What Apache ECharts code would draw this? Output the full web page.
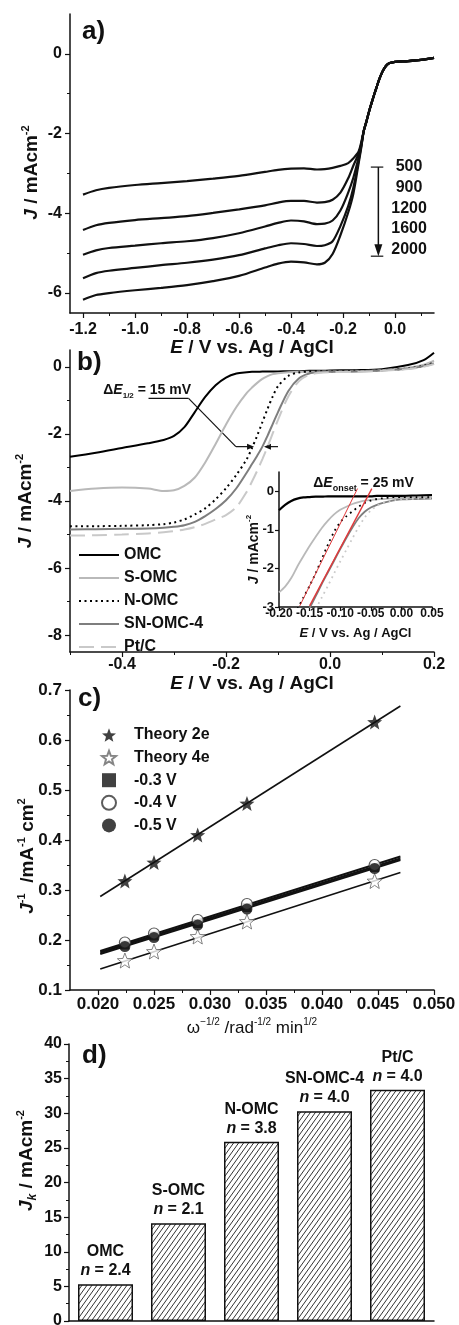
<!DOCTYPE html>
<html>
<head>
<meta charset="utf-8">
<title>ORR panels</title>
<script src="https://cdn.jsdelivr.net/npm/echarts@6.0.0/dist/echarts.min.js"></script>
<style>
  html, body { margin: 0; padding: 0; background: #fff; }
  #chart { width: 459px; height: 1325px; }
</style>
</head>
<body>
<div id="chart"></div>
<script>
// ---- a) LSV at several rotation rates ----
var aPotential = [-1.2, -1.15, -1.1, -1.0, -0.9, -0.8, -0.7, -0.6, -0.5, -0.45, -0.4, -0.35, -0.3, -0.27, -0.24,
  -0.21, -0.18, -0.16, -0.14, -0.13, -0.12, -0.11, -0.1, -0.09, -0.08, -0.07, -0.06, -0.05, -0.04, -0.03, -0.02,
  0, 0.05, 0.1, 0.15];
var aJ500 = [-3.53, -3.42, -3.36, -3.29, -3.24, -3.19, -3.13, -3.06, -2.96, -2.91, -2.88, -2.87, -2.9, -2.89, -2.86, -2.81, -2.74, -2.62, -2.45, -2.22];
var aJ900 = [-4.42, -4.3, -4.24, -4.17, -4.12, -4.07, -3.99, -3.9, -3.8, -3.73, -3.69, -3.69, -3.73, -3.72, -3.66, -3.48, -3.12, -2.8, -2.5, -2.27];
var aJ1200 = [-5.04, -4.93, -4.87, -4.81, -4.75, -4.7, -4.62, -4.5, -4.33, -4.24, -4.18, -4.2, -4.27, -4.26, -4.18, -3.93, -3.48, -3.1, -2.6, -2.3];
var aJ1600 = [-5.63, -5.5, -5.44, -5.37, -5.3, -5.24, -5.16, -5.05, -4.88, -4.8, -4.75, -4.77, -4.82, -4.8, -4.7, -4.32, -3.82, -3.35, -2.68, -2.33];
var aJ2000 = [-6.17, -6.05, -6.0, -5.93, -5.87, -5.8, -5.7, -5.57, -5.36, -5.26, -5.21, -5.23, -5.28, -5.24, -5.02, -4.55, -3.98, -3.5, -2.75, -2.36];
// common part of all five curves, from -0.12 V on
var aJMerged = [-1.93, -1.7, -1.45, -1.23, -1.02, -0.82, -0.63, -0.47, -0.35, -0.27, -0.23, -0.2, -0.18, -0.15, -0.1];
var aRpm = ['500', '900', '1200', '1600', '2000'];
var aTicksX = [-1.2, -1.0, -0.8, -0.6, -0.4, -0.2, 0.0];
var aMinorX = [-1.1, -0.9, -0.7, -0.5, -0.3, -0.1, 0.1];
var aTicksY = [-6, -4, -2, 0];
var aMinorY = [-5, -3, -1];

// ---- b) LSV of the catalysts ----
var bPotential = [-0.5, -0.45, -0.4, -0.35, -0.32, -0.3, -0.28, -0.26, -0.24, -0.22, -0.2, -0.18, -0.16, -0.15,
  -0.14, -0.13, -0.12, -0.11, -0.1, -0.08, -0.06, -0.04, -0.02, 0, 0.05, 0.1, 0.15, 0.18, 0.2];
var bOMC = [-2.68, -2.56, -2.42, -2.28, -2.18, -2.06, -1.8, -1.35, -0.9, -0.55, -0.32, -0.2, -0.16, -0.15, -0.15,
  -0.14, -0.14, -0.14, -0.14, -0.13, -0.13, -0.12, -0.12, -0.11, -0.1, -0.07, 0.05, 0.2, 0.42];
var bSOMC = [-3.7, -3.63, -3.6, -3.63, -3.7, -3.68, -3.55, -3.3, -2.85, -2.3, -1.72, -1.2, -0.78, -0.62, -0.48,
  -0.36, -0.28, -0.22, -0.19, -0.16, -0.15, -0.15, -0.14, -0.14, -0.13, -0.1, -0.03, 0.06, 0.18];
var bNOMC = [-4.75, -4.75, -4.74, -4.72, -4.69, -4.64, -4.55, -4.4, -4.22, -3.95, -3.62, -3.22, -2.75, -2.42, -2.05,
  -1.65, -1.25, -0.88, -0.58, -0.27, -0.17, -0.14, -0.13, -0.13, -0.12, -0.1, -0.05, 0.03, 0.12];
var bSNOMC = [-4.85, -4.84, -4.83, -4.82, -4.8, -4.77, -4.72, -4.62, -4.45, -4.24, -3.98, -3.62, -3.15, -2.9, -2.65,
  -2.38, -2.05, -1.7, -1.35, -0.72, -0.35, -0.2, -0.16, -0.15, -0.14, -0.11, -0.06, 0.02, 0.1];
var bPtC = [-5.03, -5.02, -5.0, -4.97, -4.93, -4.9, -4.85, -4.78, -4.68, -4.55, -4.42, -4.18, -3.72, -3.42, -3.1,
  -2.75, -2.38, -1.98, -1.58, -0.88, -0.43, -0.24, -0.18, -0.16, -0.15, -0.12, -0.07, 0.0, 0.08];
var bNames = ['OMC', 'S-OMC', 'N-OMC', 'SN-OMC-4', 'Pt/C'];
var bTicksX = [-0.4, -0.2, 0.0, 0.2];
var bMinorX = [-0.5, -0.3, -0.1, 0.1];
var bTicksY = [-8, -6, -4, -2, 0];
var bMinorY = [-7, -5, -3, -1];

// ---- b) inset, onset region ----
var iPotential = [-0.2, -0.19, -0.18, -0.17, -0.16, -0.15, -0.14, -0.13, -0.12, -0.11, -0.1, -0.09, -0.08, -0.07,
  -0.06, -0.05, -0.04, -0.03, -0.02, -0.01, 0, 0.025, 0.05];
var iOMC = [-0.49, -0.35, -0.25, -0.19, -0.16, -0.15, -0.14, -0.14, -0.13, -0.13, -0.13, -0.13, -0.13, -0.13, -0.13,
  -0.13, -0.12, -0.12, -0.12, -0.12, -0.12, -0.11, -0.1];
var iSOMC = [-2.62, -2.47, -2.25, -1.95, -1.68, -1.42, -1.18, -0.95, -0.76, -0.6, -0.48, -0.4, -0.33, -0.28, -0.24,
  -0.22, -0.21, -0.2, -0.19, -0.18, -0.17, -0.16, -0.16];
var iNOMC = [null, null, null, -3.05, -2.75, -2.45, -2.12, -1.75, -1.38, -1.05, -0.8, -0.65, -0.52, -0.4, -0.3,
  -0.24, -0.2, -0.18, -0.16, -0.15, -0.15, -0.15, -0.15];
var iSNOMC = [null, null, null, null, null, -3.03, -2.72, -2.4, -2.1, -1.8, -1.5, -1.21, -0.94, -0.7, -0.53,
  -0.42, -0.35, -0.3, -0.26, -0.23, -0.21, -0.2, -0.19];
var iPtC = [null, null, null, null, null, null, -3.05, -2.75, -2.45, -2.13, -1.82, -1.52, -1.22, -0.93, -0.68,
  -0.5, -0.38, -0.3, -0.26, -0.23, -0.21, -0.19, -0.18];
var iTangentA = [[-0.166, -2.97], [-0.0717, 0.07]];
var iTangentB = [[-0.15, -2.97], [-0.0483, 0.07]];
var iTicksX = [-0.2, -0.15, -0.1, -0.05, 0, 0.05];
var iTicksY = [-3, -2, -1, 0];

// ---- c) Koutecky-Levich ----
var cOmega = [0.0224, 0.025, 0.0289, 0.0333, 0.0447];
var c2e = [0.318, 0.355, 0.41, 0.473, 0.636];
var c4e = [0.159, 0.177, 0.207, 0.237, 0.318];
var cM03 = [0.19, 0.208, 0.233, 0.265, 0.345];
var cM04 = [0.195, 0.213, 0.24, 0.272, 0.35];
var cM05 = [0.187, 0.205, 0.23, 0.262, 0.343];
var cFitX = [0.0202, 0.047];
var cFit2e = [0.287, 0.668];
var cFit4e = [0.142, 0.335];
var cFit03 = [0.175, 0.363];
var cFit04 = [0.178, 0.367];
var cFit05 = [0.172, 0.36];
var cTicksX = [0.02, 0.025, 0.03, 0.035, 0.04, 0.045, 0.05];
var cMinorX = [0.0225, 0.0275, 0.0325, 0.0375, 0.0425, 0.0475];
var cTicksY = [0.1, 0.2, 0.3, 0.4, 0.5, 0.6, 0.7];
var cMinorY = [0.15, 0.25, 0.35, 0.45, 0.55, 0.65];

// ---- d) kinetic current ----
var dCatalysts = ['OMC', 'S-OMC', 'N-OMC', 'SN-OMC-4', 'Pt/C'];
var dJk = [5.3, 14.1, 25.9, 30.3, 33.4];
var dElectrons = ['2.4', '2.1', '3.8', '4.0', '4.0'];
var dTicksY = [0, 5, 10, 15, 20, 25, 30, 35, 40];
var dMinorY = [2.5, 7.5, 12.5, 17.5, 22.5, 27.5, 32.5, 37.5];

var FONT = "'Liberation Sans', Arial, Helvetica, sans-serif";
var INK = '#111';
var STAR = 'path://M12,1 L14.9,8.6 L23,9 L16.7,14.1 L18.8,22 L12,17.6 L5.2,22 L7.3,14.1 L1,9 L9.1,8.6 Z';

function zip(xs, ys) {
  return xs.map(function (x, i) { return [x, ys[i]]; });
}

function hatch() {
  var c = document.createElement('canvas');
  c.width = 5; c.height = 7;
  var g = c.getContext('2d');
  g.strokeStyle = '#333';
  g.lineWidth = 1;
  [-5, 0, 5].forEach(function (o) {
    g.beginPath(); g.moveTo(o, 7); g.lineTo(o + 5, 0); g.stroke();
  });
  return c;
}

function valueAxis(grid, min, max, ticks, fmt, size, margin) {
  return {
    type: 'value', gridIndex: grid, min: min, max: max,
    axisLine: { show: true, onZero: false, lineStyle: { color: INK, width: 1.5 } },
    axisTick: { show: true, length: 5, lineStyle: { color: INK, width: 1.2 }, customValues: ticks },
    axisLabel: {
      show: true, customValues: ticks, formatter: fmt, margin: margin,
      color: INK, fontFamily: FONT, fontWeight: 'bold', fontSize: size
    },
    splitLine: { show: false }
  };
}

function minorAxis(grid, min, max, ticks, pos) {
  return {
    type: 'value', gridIndex: grid, min: min, max: max, position: pos,
    axisLine: { show: false, onZero: false },
    axisLabel: { show: false },
    splitLine: { show: false },
    axisTick: { show: true, length: 3, lineStyle: { color: INK, width: 1 }, customValues: ticks }
  };
}

function named(axis, name, gap, size, lh, pad, weight, rich) {
  axis.name = name;
  axis.nameLocation = 'middle';
  axis.nameGap = gap;
  axis.nameMoveOverlap = false;
  axis.nameTextStyle = {
    fontFamily: FONT, fontSize: size, fontWeight: weight || 'bold', color: INK,
    lineHeight: lh, padding: pad || 0, rich: rich
  };
  return axis;
}

function richSet(size, weight) {
  var w = weight || 'bold';
  return {
    i: { fontStyle: 'italic', fontWeight: w, fontSize: size, fontFamily: FONT, color: INK, lineHeight: size + 5 },
    n: { fontWeight: w, fontSize: size, fontFamily: FONT, color: INK, lineHeight: size + 5 },
    s: { fontWeight: w, fontSize: Math.round(size * 0.58), fontFamily: FONT, color: INK, verticalAlign: 'top', lineHeight: size + 5 },
    k: { fontStyle: 'italic', fontWeight: w, fontSize: Math.round(size * 0.63), fontFamily: FONT, color: INK, verticalAlign: 'bottom', lineHeight: size + 5 }
  };
}

var f1 = function (v) { return v === 0 ? '0.0' : v.toFixed(1); };
var f0 = function (v) { return String(v); };

var xAxes = [
  named(valueAxis(0, -1.25, 0.15, aTicksX, f1, 16, 9), '{i|E}{n| / V vs. Ag / AgCl}', 23, 19, 22, 0, 'bold', richSet(19)),
  named(valueAxis(1, -0.5, 0.2, bTicksX, f1, 16, 5), '{i|E}{n| / V vs. Ag / AgCl}', 20, 19, 22, 0, 'bold', richSet(19)),
  named(valueAxis(2, -0.2, 0.05, iTicksX, function (v) { return v.toFixed(2); }, 12, 1),
    '{i|E}{n| / V vs. Ag / AgCl}', 17, 13, 16, 0, 'bold', richSet(13)),
  named(valueAxis(3, 0.0175, 0.05, cTicksX, function (v) { return v.toFixed(3); }, 17, 6),
    '{n|ω}{s|−1/2}{n| /rad}{s|-1/2}{n| min}{s|1/2}', 27, 17, 22, 0, 'normal', richSet(17, 'normal')),
  {
    type: 'category', gridIndex: 4, data: dCatalysts, boundaryGap: true,
    axisLine: { show: true, lineStyle: { color: INK, width: 1.5 } },
    axisTick: { show: false }, axisLabel: { show: false }, splitLine: { show: false }
  },
  minorAxis(0, -1.25, 0.15, aMinorX, 'bottom'),
  minorAxis(1, -0.5, 0.2, bMinorX, 'bottom'),
  minorAxis(3, 0.0175, 0.05, cMinorX, 'bottom')
];
xAxes[2].axisTick.length = 4;

var yAxes = [
  named(valueAxis(0, -6.5, 1, aTicksY, f0, 16, 8), '{i|J}{n| / mAcm}{s|-2}', 26, 19, 24, [0, 18, 0, 0], 'bold', richSet(19)),
  named(valueAxis(1, -8.5, 0.5, bTicksY, f0, 16, 8), '{i|J}{n| / mAcm}{s|-2}', 32, 19, 24, 0, 'bold', richSet(19)),
  named(valueAxis(2, -3, 0.5, iTicksY, f0, 13, 5), '{i|J}{n| / mAcm}{s|-2}', 15, 14, 18, [0, 20, 0, 0], 'bold', richSet(14)),
  named(valueAxis(3, 0.1, 0.7, cTicksY, f1, 17, 8), '{i|J}{s|-1}{n|  /mA}{s|-1}{n| cm}{s|2}', 30, 19, 24, [0, 32, 0, 0], 'bold', richSet(19)),
  named(valueAxis(4, 0, 40, dTicksY, f0, 16, 7), '{i|J}{k|k}{n| / mAcm}{s|-2}', 30, 19, 24, [0, 0, 0, 44], 'bold', richSet(19)),
  minorAxis(0, -6.5, 1, aMinorY, 'left'),
  minorAxis(1, -8.5, 0.5, bMinorY, 'left'),
  minorAxis(3, 0.1, 0.7, cMinorY, 'left'),
  minorAxis(4, 0, 40, dMinorY, 'left')
];
yAxes[2].axisTick.length = 4;

var series = [];

// a)
[aJ500, aJ900, aJ1200, aJ1600, aJ2000].forEach(function (arr) {
  series.push({
    type: 'line', xAxisIndex: 0, yAxisIndex: 0, data: zip(aPotential, arr.concat(aJMerged)),
    symbol: 'none', smooth: 0.3, silent: true,
    lineStyle: { color: INK, width: 2.2 }
  });
});

// b) main + inset
var bData = [bOMC, bSOMC, bNOMC, bSNOMC, bPtC];
var iData = [iOMC, iSOMC, iNOMC, iSNOMC, iPtC];
var bLook = [
  { color: '#000', type: 'solid' },
  { color: '#b9b9b9', type: 'solid' },
  { color: '#000', type: [2, 3.5] },
  { color: '#7e7e7e', type: 'solid' },
  { color: '#c9c9c9', type: [15, 7] }
];
bNames.forEach(function (nm, k) {
  series.push({
    name: nm, type: 'line', xAxisIndex: 1, yAxisIndex: 1, data: zip(bPotential, bData[k]),
    symbol: 'none', smooth: 0.3, silent: true,
    itemStyle: { color: bLook[k].color },
    lineStyle: { color: bLook[k].color, width: 2, type: bLook[k].type }
  });
});
bNames.forEach(function (nm, k) {
  var t = bLook[k].type === 'solid' ? 'solid' : [1.8, 4];
  series.push({
    type: 'line', xAxisIndex: 2, yAxisIndex: 2, data: zip(iPotential, iData[k]),
    symbol: 'none', smooth: 0.3, silent: true, connectNulls: false,
    lineStyle: { color: bLook[k].color, width: k === 0 ? 2.2 : 1.8, type: t }
  });
});
[iTangentA, iTangentB].forEach(function (seg, k) {
  series.push({
    type: 'line', xAxisIndex: 2, yAxisIndex: 2, data: seg, symbol: 'none', silent: true,
    lineStyle: { color: '#e0383a', width: k === 0 ? 1 : 1.4 }, z: 3
  });
});

// c) fits first, then markers
[[cFit2e, 1.6], [cFit4e, 1.6], [cFit03, 2], [cFit04, 2], [cFit05, 2]].forEach(function (f) {
  series.push({
    type: 'line', xAxisIndex: 3, yAxisIndex: 3, data: zip(cFitX, f[0]), symbol: 'none', silent: true,
    lineStyle: { color: INK, width: f[1] }
  });
});
var cMarks = [
  { name: 'Theory 2e', data: c2e, symbol: STAR, size: 15, style: { color: INK } },
  { name: 'Theory 4e', data: c4e, symbol: STAR, size: 15, style: { color: '#fff', borderColor: '#666', borderWidth: 1 } },
  { name: '-0.3 V', data: cM03, symbol: 'rect', size: 9, style: { color: INK } },
  { name: '-0.4 V', data: cM04, symbol: 'circle', size: 11, style: { color: '#fff', borderColor: '#333', borderWidth: 1.2 } },
  { name: '-0.5 V', data: cM05, symbol: 'circle', size: 11, style: { color: INK } }
];
cMarks.forEach(function (m) {
  series.push({
    name: m.name, type: 'scatter', xAxisIndex: 3, yAxisIndex: 3, data: zip(cOmega, m.data),
    symbol: m.symbol, symbolSize: m.size, itemStyle: m.style, silent: true, z: 4
  });
});

// d)
series.push({
  type: 'bar', xAxisIndex: 4, yAxisIndex: 4, data: dJk, barWidth: 55, silent: true,
  itemStyle: { color: { image: hatch(), repeat: 'repeat' }, borderColor: INK, borderWidth: 1.5 },
  label: {
    show: true, position: 'top', distance: 4,
    formatter: function (p) {
      return '{b|' + dCatalysts[p.dataIndex] + '}\n{i|n}{b| = ' + dElectrons[p.dataIndex] + '}';
    },
    rich: {
      b: { fontFamily: FONT, fontWeight: 'bold', fontSize: 16, color: INK, lineHeight: 19 },
      i: { fontFamily: FONT, fontWeight: 'bold', fontStyle: 'italic', fontSize: 16, color: INK, lineHeight: 19 }
    }
  }
});

var legendText = { fontFamily: FONT, fontWeight: 'bold', fontSize: 16, color: INK };

var chart = echarts.init(document.getElementById('chart'), null, { renderer: 'canvas' });
chart.setOption({
  animation: false,
  backgroundColor: '#fff',
  textStyle: { fontFamily: FONT },
  grid: [
    { left: 70, top: 14, width: 364, height: 299, containLabel: false, outerBoundsMode: 'none' },
    { left: 70, top: 350, width: 364, height: 302, containLabel: false, outerBoundsMode: 'none' },
    { left: 279, top: 472, width: 153, height: 135, containLabel: false, outerBoundsMode: 'none' },
    { left: 70, top: 690, width: 364, height: 300, containLabel: false, outerBoundsMode: 'none' },
    { left: 69, top: 1044, width: 365, height: 277, containLabel: false, outerBoundsMode: 'none' }
  ],
  xAxis: xAxes,
  yAxis: yAxes,
  legend: [
    {
      data: bNames, orient: 'vertical', left: 78, top: 547, itemWidth: 40, itemHeight: 14, itemGap: 7,
      selectedMode: false, textStyle: legendText, padding: 0,
      itemStyle: { opacity: 0 }
    },
    {
      data: cMarks.map(function (m) { return m.name; }), orient: 'vertical', left: 101, top: 727,
      itemWidth: 14, itemHeight: 14, itemGap: 6.6, selectedMode: false, padding: 0,
      textStyle: { fontFamily: FONT, fontWeight: 'bold', fontSize: 16, color: INK, padding: [0, 0, 0, 13] }
    }
  ],
  series: series
});

// annotations placed from data coordinates
function annotate() {
  var els = [];
  function pt(i, x, y) { return chart.convertToPixel({ xAxisIndex: i, yAxisIndex: i }, [x, y]); }
  function seg(p, q, w) {
    els.push({ type: 'line', silent: true, shape: { x1: p[0], y1: p[1], x2: q[0], y2: q[1] },
      style: { stroke: INK, lineWidth: w || 1.3 } });
  }
  function head(tip, from, len, half) {
    var dx = tip[0] - from[0], dy = tip[1] - from[1], L = Math.sqrt(dx * dx + dy * dy);
    var ux = dx / L, uy = dy / L, bx = tip[0] - ux * len, by = tip[1] - uy * len;
    els.push({ type: 'polygon', silent: true,
      shape: { points: [tip, [bx - uy * half, by + ux * half], [bx + uy * half, by - ux * half]] },
      style: { fill: INK } });
  }
  function txt(p, s, size, align, rich) {
    els.push({ type: 'text', silent: true, x: p[0], y: p[1],
      style: { text: s, rich: rich, fill: INK, fontFamily: FONT, fontWeight: 'bold', fontSize: size,
        align: align || 'center', verticalAlign: 'middle' } });
  }

  // panel letters
  txt([82, 32], 'a)', 26, 'left');
  txt([77, 363], 'b)', 26, 'left');
  txt([78, 699], 'c)', 26, 'left');
  txt([82, 1056], 'd)', 26, 'left');

  // a) rotation-rate arrow
  var top = pt(0, -0.064, -2.84), bot = pt(0, -0.064, -5.075);
  seg(top, [bot[0], bot[1] - 10], 1.5);
  head(bot, top, 12, 4);
  seg(pt(0, -0.093, -2.84), pt(0, -0.045, -2.84), 1.2);
  seg(pt(0, -0.093, -5.075), pt(0, -0.045, -5.075), 1.2);
  var rpmY = [-2.84, -3.36, -3.875, -4.38, -4.9];
  aRpm.forEach(function (r, k) { txt(pt(0, 0.054, rpmY[k]), r, 16); });

  // b) half-wave shift
  var rb = richSet(14);
  rb.d = { fontFamily: FONT, fontWeight: 'bold', fontSize: 14, color: INK, lineHeight: 19 };
  rb.s.verticalAlign = 'bottom';
  txt(pt(1, -0.436, -0.7), '{d|Δ}{i|E}{s|1/2}{d| = 15 mV}', 14, 'left', rb);
  var p1 = pt(1, -0.349, -0.94), p2 = pt(1, -0.272, -0.94), p3 = pt(1, -0.181, -2.38), p4 = pt(1, -0.146, -2.38);
  seg(p1, p2, 1.2); seg(p2, p3, 1.2); seg(p3, [p4[0] - 5, p4[1]], 1.2); head(p4, p3, 7, 3);
  var q1 = pt(1, -0.1, -2.38), q2 = pt(1, -0.127, -2.38);
  seg(q1, [q2[0] + 5, q2[1]], 1.2); head(q2, q1, 7, 3);

  // inset onset shift
  var ro = richSet(14);
  ro.d = { fontFamily: FONT, fontWeight: 'bold', fontSize: 14, color: INK, lineHeight: 19 };
  ro.s = { fontFamily: FONT, fontWeight: 'bold', fontSize: 9, color: INK, verticalAlign: 'bottom', lineHeight: 19 };
  txt(pt(2, -0.144, 0.21), '{d|Δ}{i|E}{s|onset}{d| = 25 mV}', 14, 'left', ro);

  chart.setOption({ graphic: els });
}
annotate();
</script>
</body>
</html>
